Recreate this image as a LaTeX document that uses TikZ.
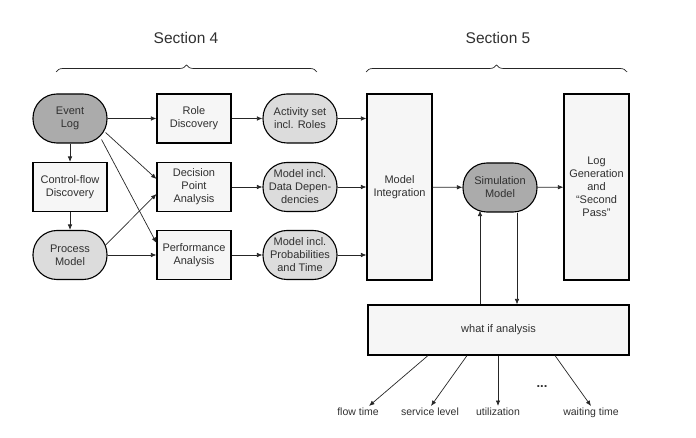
\documentclass[tikz,border=0pt]{standalone}
\usepackage{fontspec}
\setmainfont{Liberation Sans}
\usepackage{xcolor}
\usetikzlibrary{
    positioning,
    calc,
    arrows.meta,
    decorations.pathreplacing
}
\definecolor{GrisEscuro}{HTML}{ABABAB}
\definecolor{GrisClaro}{HTML}{DCDCDC}
\definecolor{GrisCaixa}{HTML}{F6F6F6}
\definecolor{GrisLinha}{HTML}{262626}
\definecolor{GrisTexto}{HTML}{303030}

\tikzset{
    taskbox/.style={
        draw=black,
        line width=1.1pt,
        fill=GrisCaixa,
        minimum width=74pt,
        minimum height=49pt,
        inner sep=2pt,
        align=center,
        text=GrisTexto,
        font=\fontsize{11}{13}\selectfont
    },
    tallbox/.style={taskbox, minimum width=65pt, minimum height=186pt},
    widebox/.style={taskbox, minimum width=261pt, minimum height=50pt},
    artefact/.style={taskbox, rounded corners=24pt, fill=GrisClaro},
    artefactdark/.style={artefact, fill=GrisEscuro},
    flow/.style={-{Latex[length=5.5pt,width=4.5pt]}, line width=0.7pt, draw=GrisLinha},
    outlabel/.style={anchor=north, inner sep=2pt, text=GrisTexto,
        font=\fontsize{10.5}{12}\selectfont},
    seclabel/.style={text=GrisTexto, font=\fontsize{15.5}{18}\selectfont},
    secbrace/.style={decorate, decoration={brace, amplitude=7pt},
        line width=0.7pt, draw=GrisLinha}
}

\begin{document}
\begin{tikzpicture}[x=1pt, y=-1pt]
    \useasboundingbox (0,0) rectangle (696,438);

    % section braces
    \node[seclabel] (sec4) at (186,38) {Section 4};
    \node[seclabel] (sec5) at (498,38) {Section 5};
    \coordinate (b4l) at (56,72);
    \coordinate (b4r) at (317,72);
    \coordinate (b5l) at (366,72);
    \coordinate (b5r) at (627,72);
    \draw[secbrace] (b4l) -- (b4r);
    \draw[secbrace] (b5l) -- (b5r);

    % discovery
    \node[artefactdark] (evlog) at (70,118.5) {Event\\Log};
    \node[taskbox] (cfdisc) at (70,187) {Control-flow\\Discovery};
    \node[artefact] (procmodel) at (70,255) {Process\\Model};
    \node[taskbox] (roledisc) at (194,118.5) {Role\\Discovery};
    \node[taskbox] (decpoint) at (194,187) {Decision\\Point\\Analysis};
    \node[taskbox] (perf) at (194,255) {Performance\\Analysis};
    \node[artefact] (actset) at (300,118.5) {Activity set\\incl. Roles};
    \node[artefact] (datadep) at (300,187) {Model incl.\\Data Depen-\\dencies};
    \node[artefact] (probtime) at (300,255) {Model incl.\\Probabilities\\and Time};

    % simulation
    \node[tallbox] (integr) at (399.5,187) {Model\\Integration};
    \node[artefactdark] (simmodel) at (500,187.5) {Simulation\\Model};
    \node[tallbox] (loggen) at (596.5,187) {Log\\Generation\\and\\“Second\\Pass”};
    \node[widebox] (whatif) at (498.5,330) {what if analysis};

    % outcomes
    \node[outlabel] (flowtime) at (358,406) {flow time};
    \node[outlabel] (service) at (430,406) {service level};
    \node[outlabel] (util) at (498,406) {utilization};
    \node[outlabel] (waiting) at (591,406) {waiting time};
    \node[text=GrisTexto, font=\fontsize{13}{13}\bfseries] (dots) at (542,387) {...};

    % connectors
    \draw[flow] (evlog) -- (roledisc);
    \draw[flow] (roledisc) -- (actset);
    \draw[flow] (evlog) -- (cfdisc);
    \draw[flow] (cfdisc) -- (procmodel);
    \draw[flow] (evlog.east) ++(-2pt,-14pt) -- ([yshift=8pt]decpoint.west);
    \draw[flow] (evlog.south east) ++(-6pt,4pt) -- ([yshift=12pt]perf.west);
    \draw[flow] (procmodel.east) ++(-2pt,10pt) -- ([yshift=-7pt]decpoint.west);
    \draw[flow] (procmodel) -- (perf);
    \draw[flow] (decpoint) -- (datadep);
    \draw[flow] (perf) -- (probtime);
    \draw[flow] (actset) -- (actset -| integr.west);
    \draw[flow] (datadep) -- (datadep -| integr.west);
    \draw[flow] (probtime) -- (probtime -| integr.west);
    \draw[flow] (integr) -- (simmodel);
    \draw[flow] (simmodel) -- (loggen);
    \draw[flow] ([xshift=-20pt]simmodel.south |- whatif.north) -- ([xshift=-20pt,yshift=2pt]simmodel.south);
    \draw[flow] ([xshift=17pt]simmodel.south) -- ([xshift=17pt]simmodel.south |- whatif.north);
    \draw[flow] ([xshift=-70.5pt]whatif.south) -- ([xshift=11pt]flowtime.north);
    \draw[flow] ([xshift=-31.5pt]whatif.south) -- ([xshift=1pt]service.north);
    \draw[flow] (whatif.south -| util.north) -- (util.north);
    \draw[flow] ([xshift=56.5pt]whatif.south) -- (waiting.north);
\end{tikzpicture}
\end{document}
